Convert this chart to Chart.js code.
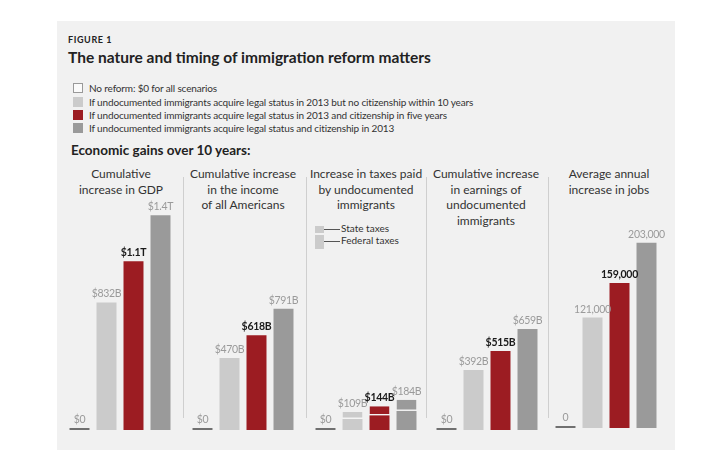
<!DOCTYPE html>
<html>
<head>
<meta charset="utf-8">
<script src="https://cdn.jsdelivr.net/npm/chart.js@4/dist/chart.umd.min.js"></script>
<style>
  body { margin: 0; background: #fff; font-family: Lato, 'Open Sans', sans-serif; color: #222; }
  .abs { position: absolute; }
  #panel { left: 57px; top: 21px; width: 618px; height: 429px; background: #f1f1f1; }
  #fig { left: 68px; top: 34px; font-size: 9px; font-weight: 700; letter-spacing: 0.6px; }
  #title { left: 68px; top: 48px; font-size: 15.5px; font-weight: 700; white-space: nowrap; }
  .leg { left: 73px; font-size: 10px; letter-spacing: -0.15px; white-space: nowrap; color: #333; height: 12px; line-height: 12px; }
  .leg i { position: absolute; left: 0; top: 1px; width: 10px; height: 10px; }
  .leg span { position: absolute; left: 16px; top: 0; }
  #sub { left: 71px; top: 142px; font-size: 13.5px; font-weight: 700; white-space: nowrap; }
  .ptitle { top: 166px; width: 120px; font-size: 12px; line-height: 15.5px; text-align: center; color: #333; }
  .sep { top: 177px; width: 1px; height: 241px; background: #cfcfcf; }
  canvas { position: absolute; top: 190px; }
  .tleg { font-size: 10px; color: #333; white-space: nowrap; }
</style>
</head>
<body>
<div id="panel" class="abs"></div>
<div id="fig" class="abs">FIGURE 1</div>
<div id="title" class="abs">The nature and timing of immigration reform matters</div>
<div id="legend"></div>
<div id="sub" class="abs">Economic gains over 10 years:</div>

<div class="abs ptitle" style="left:61px">Cumulative<br>increase in GDP</div>
<div class="abs ptitle" style="left:183px">Cumulative increase<br>in the income<br>of all Americans</div>
<div class="abs ptitle" style="left:306px">Increase in taxes paid<br>by undocumented<br>immigrants</div>
<div class="abs ptitle" style="left:426px">Cumulative increase<br>in earnings of<br>undocumented<br>immigrants</div>
<div class="abs ptitle" style="left:549px">Average annual<br>increase in jobs</div>

<div class="abs sep" style="left:183px"></div>
<div class="abs sep" style="left:306px"></div>
<div class="abs sep" style="left:426px"></div>
<div class="abs sep" style="left:548px"></div>

<div class="abs" style="left:315px;top:226px;width:9px;height:7px;background:#cbcbcb"></div>
<div class="abs" style="left:315px;top:235px;width:9px;height:14px;background:#cbcbcb"></div>
<div class="abs" style="left:324px;top:229px;width:16px;height:1px;background:#555"></div>
<div class="abs" style="left:324px;top:241px;width:16px;height:1px;background:#555"></div>
<div class="abs tleg" style="left:341px;top:222px">State taxes</div>
<div class="abs tleg" style="left:341px;top:234px">Federal taxes</div>

<canvas id="gdpChart" width="120" height="242" style="left:60px"></canvas>
<canvas id="incomeChart" width="120" height="242" style="left:183px"></canvas>
<canvas id="taxChart" width="120" height="242" style="left:306px"></canvas>
<canvas id="earningsChart" width="120" height="242" style="left:427px"></canvas>
<canvas id="jobsChart" width="120" height="242" style="left:546px;top:188px"></canvas>

<script>
// Scenarios (legend order)
const scenarios = [
  'No reform: $0 for all scenarios',
  'If undocumented immigrants acquire legal status in 2013 but no citizenship within 10 years',
  'If undocumented immigrants acquire legal status in 2013 and citizenship in five years',
  'If undocumented immigrants acquire legal status and citizenship in 2013'
];

// Values in billions of dollars (jobs in jobs per year)
const gdp = [0, 832, 1100, 1400];
const income = [0, 470, 618, 791];
const federalTaxes = [0, 67, 89, 116];
const stateTaxes = [0, 42, 55, 68];
const earnings = [0, 392, 515, 659];
const jobs = [0, 121000, 159000, 203000];

const barColors = ['#707070', '#cbcbcb', '#9c1c22', '#9a9a9a'];
const labelColors = ['#9a9a9a', '#9a9a9a', '#1a1a1a', '#9a9a9a'];
const swatchColors = ['#fafafa', '#cbcbcb', '#9c1c22', '#9a9a9a'];

// Build legend
const legendTops = [82, 96, 109, 122];
document.getElementById('legend').innerHTML = scenarios.map((s, i) => `
  <div class="abs leg" style="top:${legendTops[i]}px">
    <i style="background:${swatchColors[i]};${i === 0 ? 'border:1px solid #999;width:8px;height:8px;' : ''}"></i>
    <span>${s}</span>
  </div>
`).join('');

// Format value labels
function formatDollars(v) {
  if (v === 0) return '$0';
  if (v >= 1000) return '$' + (v / 1000).toFixed(1) + 'T';
  return '$' + v + 'B';
}
function formatJobs(v) {
  return v.toLocaleString('en-US');
}

// Draw a value label above each bar stack
const valueLabels = {
  id: 'valueLabels',
  afterDatasetsDraw(chart, args, opts) {
    const ctx = chart.ctx;
    const n = chart.data.labels.length;
    ctx.save();
    ctx.textAlign = 'center';
    ctx.textBaseline = 'alphabetic';
    ctx.letterSpacing = '-0.3px';
    for (let i = 0; i < n; i++) {
      let top = Infinity, x = 0, total = 0;
      chart.data.datasets.forEach((ds, d) => {
        const el = chart.getDatasetMeta(d).data[i];
        total += ds.data[i] || 0;
        if (el) { top = Math.min(top, el.y, el.base); x = el.x; }
      });
      ctx.fillStyle = labelColors[i];
      ctx.font = (i === 2 ? '700 ' : '400 ') + '10.5px Lato, "Open Sans", sans-serif';
      ctx.fillText(opts.format(total), x, top - 5);
    }
    ctx.restore();
  }
};

function makeChart(id, datasets, max, format) {
  return new Chart(document.getElementById(id), {
    type: 'bar',
    data: {
      labels: scenarios,
      datasets: datasets.map((d, k) => ({
        data: d,
        backgroundColor: barColors,
        categoryPercentage: 1,
        barPercentage: 0.74,
        minBarLength: k === 0 ? 2 : 0,
        clip: false,
        borderWidth: k > 0 ? { bottom: 1.5 } : 0,
        borderColor: '#f4f4f4',
        borderSkipped: false
      }))
    },
    options: {
      responsive: false,
      animation: false,
      devicePixelRatio: 1,
      layout: { padding: { left: 6, right: 6, top: 10, bottom: 2 } },
      plugins: {
        legend: { display: false },
        tooltip: { enabled: false },
        valueLabels: { format: format }
      },
      scales: {
        x: { display: false, stacked: true },
        y: { display: false, stacked: true, min: 0, max: max }
      }
    },
    plugins: [valueLabels]
  });
}

makeChart('gdpChart', [gdp], 1500, formatDollars);
makeChart('incomeChart', [income], 1500, formatDollars);
makeChart('taxChart', [federalTaxes, stateTaxes], 1400, formatDollars);
makeChart('earningsChart', [earnings], 1500, formatDollars);
makeChart('jobsChart', [jobs], 252000, formatJobs);
</script>
</body>
</html>
